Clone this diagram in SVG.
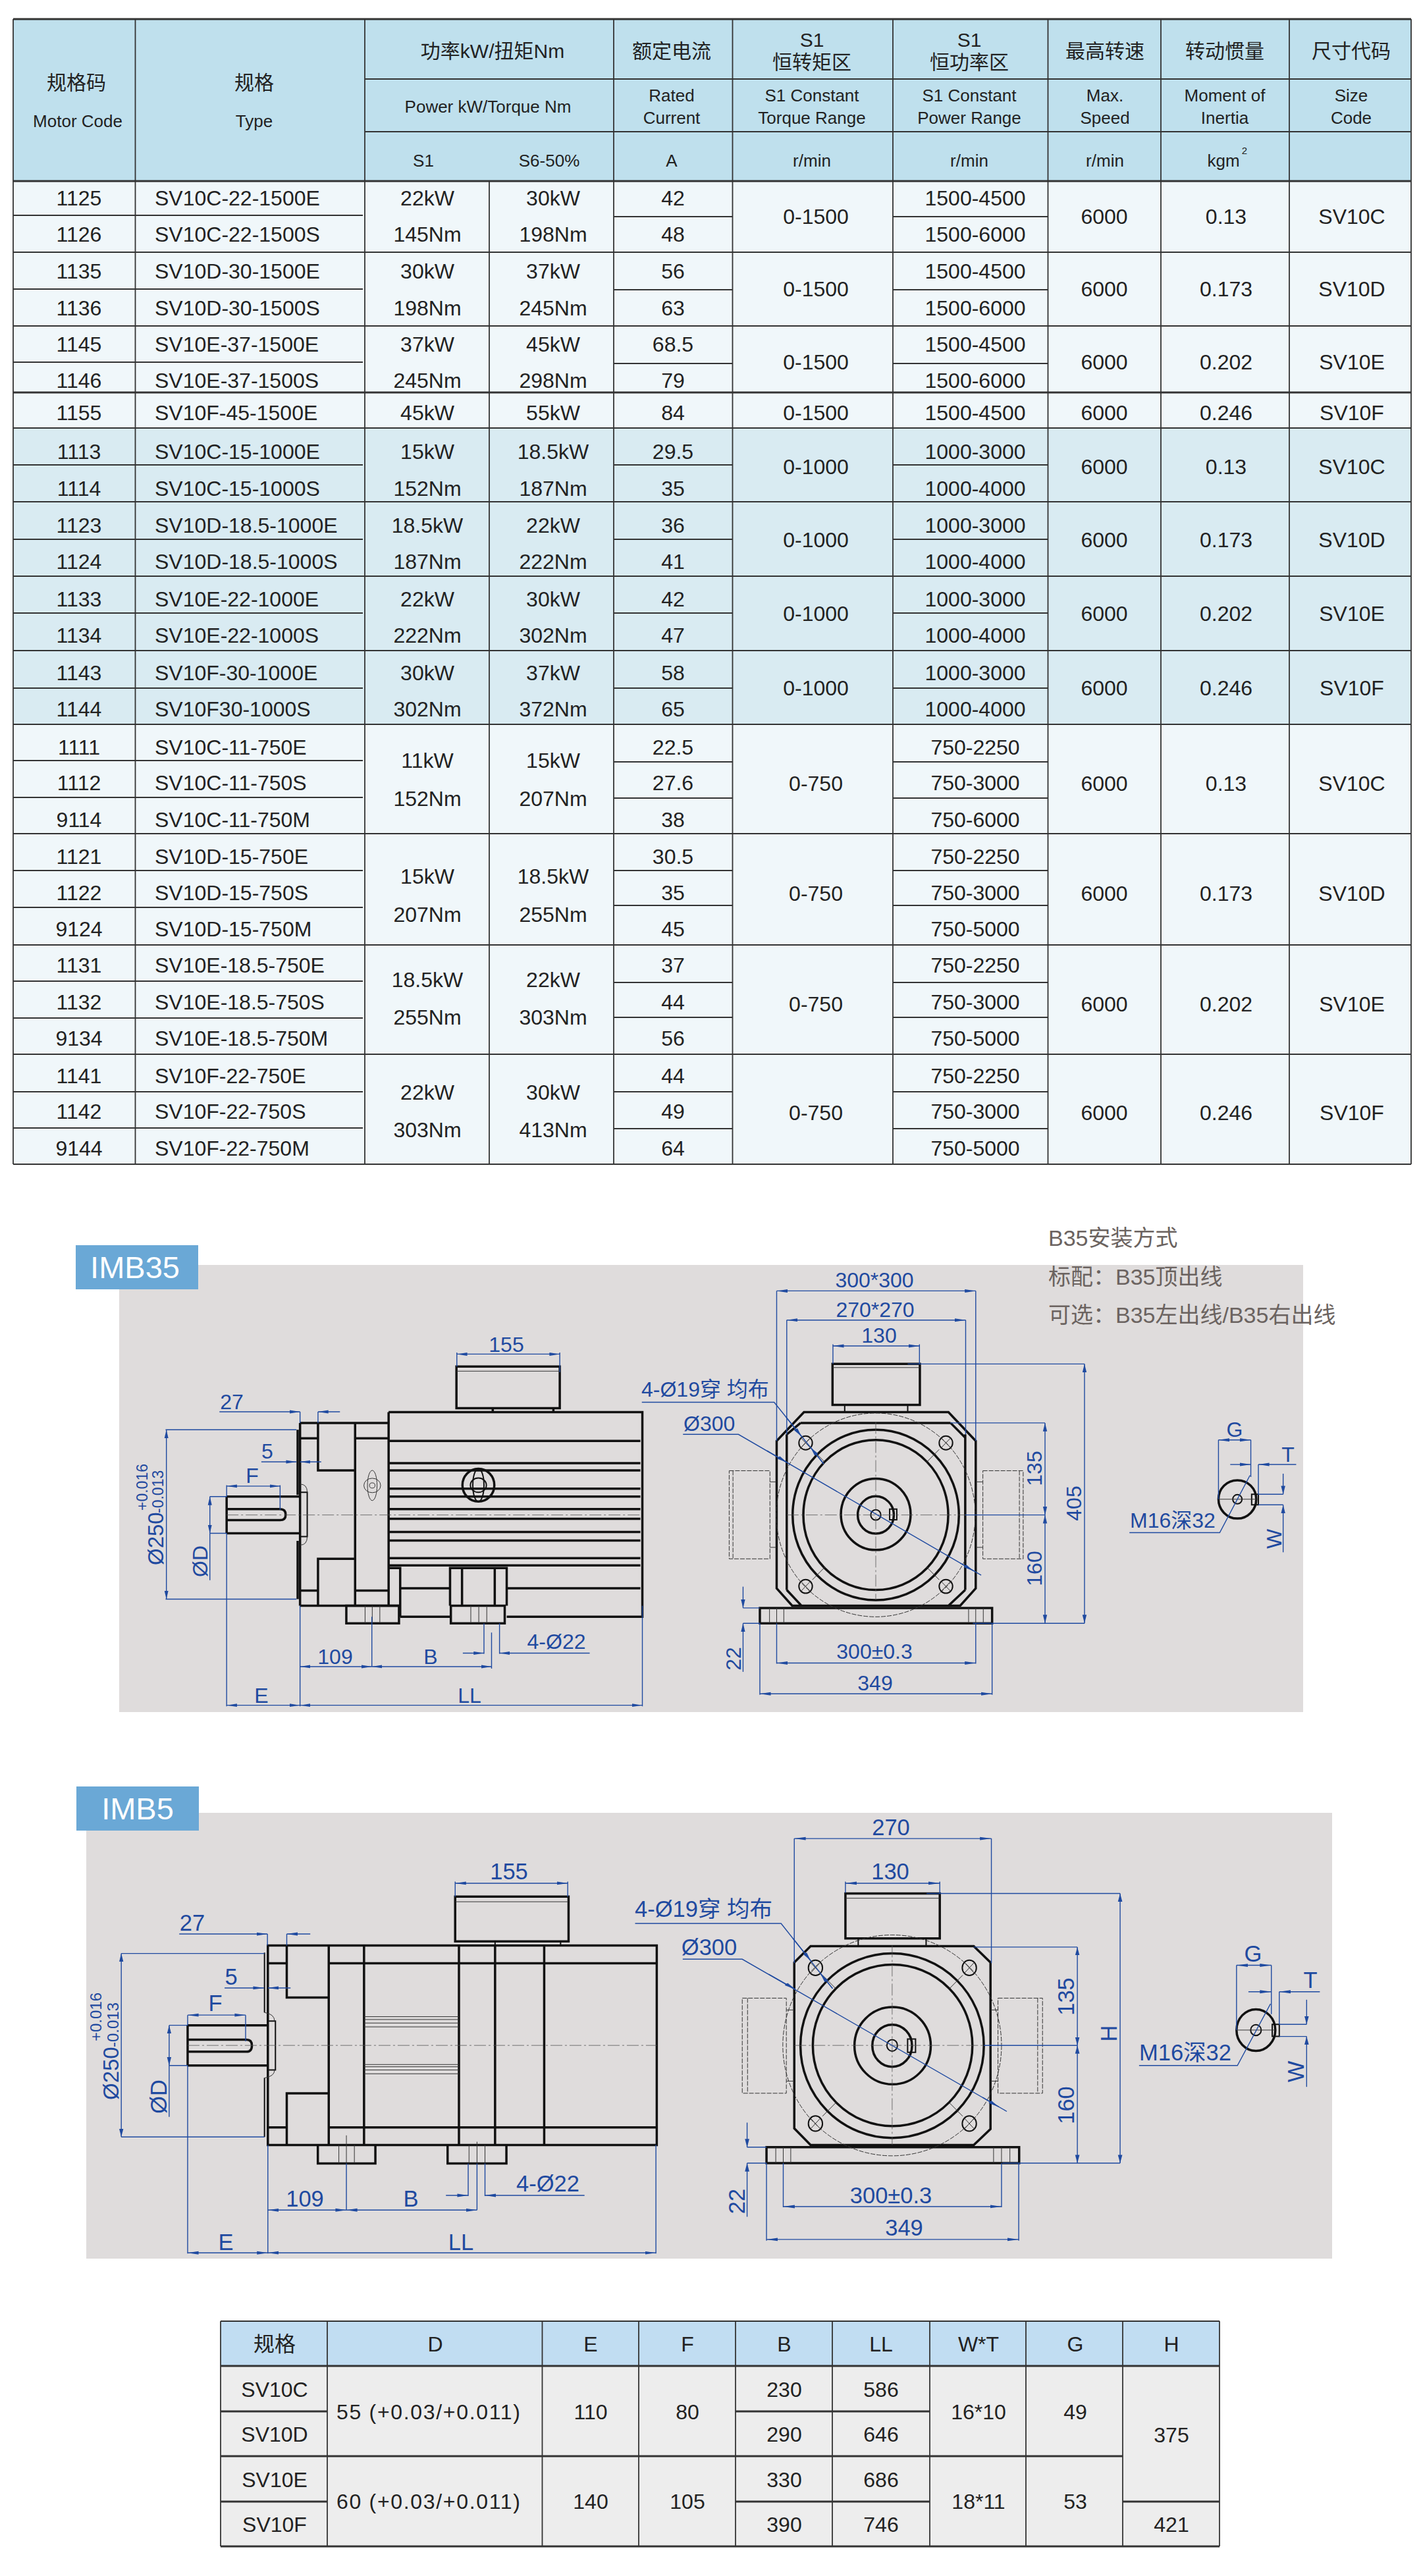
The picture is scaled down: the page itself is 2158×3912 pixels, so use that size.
<svg xmlns="http://www.w3.org/2000/svg" width="2158" height="3912" viewBox="0 0 2158 3912">
<style>
text{font-family:"Liberation Sans","Noto Sans CJK SC",sans-serif;fill:#222;font-size:32px;text-anchor:middle}
.l{text-anchor:start}
.h{font-size:26px}
.c{font-size:30px}
.t2{font-size:32px}
.b{fill:#1f4aa0;font-size:32px}
.s{font-size:23px}
#imb5 .b{font-size:34.500px}
#imb5 .s{font-size:24px}
.n{fill:#6b6360;font-size:34px;text-anchor:start}
.w{fill:#fff;font-size:47px}
.ln{stroke:#333;stroke-width:1.8;fill:none}
.ln2{stroke:#333;stroke-width:3;fill:none}
.k,.m,.f,.ds,.d,.dd,.de,.cl{vector-effect:non-scaling-stroke;fill:none}
.k{stroke:#111;stroke-width:3.5}
.m{stroke:#111;stroke-width:2}
.f{stroke:#333;stroke-width:1}
.ds{stroke:#333;stroke-width:1;stroke-dasharray:7 2}
.cl{stroke:#555;stroke-width:.8;stroke-dasharray:18 4 3 4}
.d,.dd,.de{stroke:#1f4aa0;stroke-width:1.4}
.dd{marker-start:url(#a);marker-end:url(#a)}
.de{marker-end:url(#a)}
</style>
<defs>
<marker id="a" markerUnits="userSpaceOnUse" markerWidth="28" markerHeight="14" refX="26" refY="7" orient="auto-start-reverse"><path d="M0 2L26 7L0 12z" fill="#1f4aa0"/></marker>
</defs>
<rect width="2158" height="3912" fill="#fff"/>

<g id="spec-table">
<rect x="20" y="29" width="2123" height="246" fill="#bfe0ed"/>
<rect x="20" y="275" width="2123" height="375" fill="#f0f7fa"/>
<rect x="20" y="650" width="2123" height="450" fill="#d9ebf2"/>
<rect x="20" y="1100" width="2123" height="668" fill="#f0f7fa"/>
<path class="ln2" d="M20 29H2143M20 275H2143M20 596H2143"/>
<path class="ln" d="M20 383H2143M20 495H2143M20 650H2143M20 762H2143M20 875H2143M20 988H2143M20 1100H2143M20 1266H2143M20 1435H2143M20 1601H2143M20 1768H2143"/>
<path class="ln" d="M554 120H2143M554 200H2143"/>
<path class="ln" d="M20 327H551M20 439H551M20 550H551M20 706H551M20 819H551M20 931H551M20 1045H551M20 1155H551M20 1211H551M20 1322H551M20 1378H551M20 1490H551M20 1546H551M20 1658H551M20 1713H551"/>
<path class="ln" d="M932 329H1112M932 440H1112M932 552H1112M932 706H1112M932 819H1112M932 931H1112M932 1045H1112M932 1157H1112M932 1212H1112M932 1322H1112M932 1375H1112M932 1492H1112M932 1545H1112M932 1658H1112M932 1714H1112"/>
<path class="ln" d="M1356 329H1591M1356 440H1591M1356 552H1591M1356 706H1591M1356 819H1591M1356 931H1591M1356 1045H1591M1356 1157H1591M1356 1212H1591M1356 1322H1591M1356 1375H1591M1356 1492H1591M1356 1545H1591M1356 1658H1591M1356 1714H1591"/>
<path class="ln" d="M20 29V1768M205.500 29V1768M554 29V1768M743 275V1768M932 29V1768M1112.500 29V1768M1356 29V1768M1591.500 29V1768M1763 29V1768M1958 29V1768M2143 29V1768"/>

<text x="116" y="136" class="c">规格码</text><text x="118" y="193" class="h">Motor  Code</text>
<text x="386" y="136" class="c">规格</text><text x="386" y="193" class="h">Type</text>
<text x="748" y="88" class="c">功率kW/扭矩Nm</text><text x="741" y="171" class="h">Power kW/Torque Nm</text>
<text x="643" y="253" class="h">S1</text><text x="834" y="253" class="h">S6-50%</text>
<text x="1020" y="88" class="c">额定电流</text><text x="1020" y="154" class="h">Rated</text><text x="1020" y="188" class="h">Current</text><text x="1020" y="253" class="h">A</text>
<text x="1233" y="71" class="c">S1</text><text x="1233" y="105" class="c">恒转矩区</text><text x="1233" y="154" class="h">S1 Constant</text><text x="1233" y="188" class="h">Torque Range</text><text x="1233" y="253" class="h">r/min</text>
<text x="1472" y="71" class="c">S1</text><text x="1472" y="105" class="c">恒功率区</text><text x="1472" y="154" class="h">S1 Constant</text><text x="1472" y="188" class="h">Power Range</text><text x="1472" y="253" class="h">r/min</text>
<text x="1678" y="88" class="c">最高转速</text><text x="1678" y="154" class="h">Max.</text><text x="1678" y="188" class="h">Speed</text><text x="1678" y="253" class="h">r/min</text>
<text x="1860" y="88" class="c">转动惯量</text><text x="1860" y="154" class="h">Moment of</text><text x="1860" y="188" class="h">Inertia</text><text x="1858" y="253" class="h">kgm</text><text x="1890" y="234" style="font-size:15px">2</text>
<text x="2052" y="88" class="c">尺寸代码</text><text x="2052" y="154" class="h">Size</text><text x="2052" y="188" class="h">Code</text>

<g id="col-code">
<text x="120" y="312">1125</text><text x="120" y="367">1126</text><text x="120" y="423">1135</text><text x="120" y="479">1136</text><text x="120" y="534">1145</text><text x="120" y="589">1146</text><text x="120" y="638">1155</text>
<text x="120" y="697">1113</text><text x="120" y="753">1114</text><text x="120" y="809">1123</text><text x="120" y="864">1124</text><text x="120" y="921">1133</text><text x="120" y="976">1134</text><text x="120" y="1033">1143</text><text x="120" y="1088">1144</text>
<text x="120" y="1146">1111</text><text x="120" y="1200">1112</text><text x="120" y="1256">9114</text><text x="120" y="1312">1121</text><text x="120" y="1367">1122</text><text x="120" y="1422">9124</text><text x="120" y="1477">1131</text><text x="120" y="1533">1132</text><text x="120" y="1588">9134</text><text x="120" y="1645">1141</text><text x="120" y="1699">1142</text><text x="120" y="1755">9144</text>
</g>
<g id="col-type">
<text x="235" y="312" class="l">SV10C-22-1500E</text><text x="235" y="367" class="l">SV10C-22-1500S</text><text x="235" y="423" class="l">SV10D-30-1500E</text><text x="235" y="479" class="l">SV10D-30-1500S</text><text x="235" y="534" class="l">SV10E-37-1500E</text><text x="235" y="589" class="l">SV10E-37-1500S</text><text x="235" y="638" class="l">SV10F-45-1500E</text>
<text x="235" y="697" class="l">SV10C-15-1000E</text><text x="235" y="753" class="l">SV10C-15-1000S</text><text x="235" y="809" class="l">SV10D-18.5-1000E</text><text x="235" y="864" class="l">SV10D-18.5-1000S</text><text x="235" y="921" class="l">SV10E-22-1000E</text><text x="235" y="976" class="l">SV10E-22-1000S</text><text x="235" y="1033" class="l">SV10F-30-1000E</text><text x="235" y="1088" class="l">SV10F30-1000S</text>
<text x="235" y="1146" class="l">SV10C-11-750E</text><text x="235" y="1200" class="l">SV10C-11-750S</text><text x="235" y="1256" class="l">SV10C-11-750M</text><text x="235" y="1312" class="l">SV10D-15-750E</text><text x="235" y="1367" class="l">SV10D-15-750S</text><text x="235" y="1422" class="l">SV10D-15-750M</text><text x="235" y="1477" class="l">SV10E-18.5-750E</text><text x="235" y="1533" class="l">SV10E-18.5-750S</text><text x="235" y="1588" class="l">SV10E-18.5-750M</text><text x="235" y="1645" class="l">SV10F-22-750E</text><text x="235" y="1699" class="l">SV10F-22-750S</text><text x="235" y="1755" class="l">SV10F-22-750M</text>
</g>
<g id="col-s1">
<text x="649" y="312">22kW</text><text x="649" y="367">145Nm</text><text x="649" y="423">30kW</text><text x="649" y="479">198Nm</text><text x="649" y="534">37kW</text><text x="649" y="589">245Nm</text><text x="649" y="638">45kW</text>
<text x="649" y="697">15kW</text><text x="649" y="753">152Nm</text><text x="649" y="809">18.5kW</text><text x="649" y="864">187Nm</text><text x="649" y="921">22kW</text><text x="649" y="976">222Nm</text><text x="649" y="1033">30kW</text><text x="649" y="1088">302Nm</text>
<text x="649" y="1166">11kW</text><text x="649" y="1224">152Nm</text><text x="649" y="1342">15kW</text><text x="649" y="1400">207Nm</text><text x="649" y="1499">18.5kW</text><text x="649" y="1556">255Nm</text><text x="649" y="1670">22kW</text><text x="649" y="1727">303Nm</text>
</g>
<g id="col-s6">
<text x="840" y="312">30kW</text><text x="840" y="367">198Nm</text><text x="840" y="423">37kW</text><text x="840" y="479">245Nm</text><text x="840" y="534">45kW</text><text x="840" y="589">298Nm</text><text x="840" y="638">55kW</text>
<text x="840" y="697">18.5kW</text><text x="840" y="753">187Nm</text><text x="840" y="809">22kW</text><text x="840" y="864">222Nm</text><text x="840" y="921">30kW</text><text x="840" y="976">302Nm</text><text x="840" y="1033">37kW</text><text x="840" y="1088">372Nm</text>
<text x="840" y="1166">15kW</text><text x="840" y="1224">207Nm</text><text x="840" y="1342">18.5kW</text><text x="840" y="1400">255Nm</text><text x="840" y="1499">22kW</text><text x="840" y="1556">303Nm</text><text x="840" y="1670">30kW</text><text x="840" y="1727">413Nm</text>
</g>
<g id="col-current">
<text x="1022" y="312">42</text><text x="1022" y="367">48</text><text x="1022" y="423">56</text><text x="1022" y="479">63</text><text x="1022" y="534">68.5</text><text x="1022" y="589">79</text><text x="1022" y="638">84</text>
<text x="1022" y="697">29.5</text><text x="1022" y="753">35</text><text x="1022" y="809">36</text><text x="1022" y="864">41</text><text x="1022" y="921">42</text><text x="1022" y="976">47</text><text x="1022" y="1033">58</text><text x="1022" y="1088">65</text>
<text x="1022" y="1146">22.5</text><text x="1022" y="1200">27.6</text><text x="1022" y="1256">38</text><text x="1022" y="1312">30.5</text><text x="1022" y="1367">35</text><text x="1022" y="1422">45</text><text x="1022" y="1477">37</text><text x="1022" y="1533">44</text><text x="1022" y="1588">56</text><text x="1022" y="1645">44</text><text x="1022" y="1699">49</text><text x="1022" y="1755">64</text>
</g>
<g id="col-torque">
<text x="1239" y="340">0-1500</text><text x="1239" y="450">0-1500</text><text x="1239" y="561">0-1500</text><text x="1239" y="638">0-1500</text>
<text x="1239" y="720">0-1000</text><text x="1239" y="831">0-1000</text><text x="1239" y="943">0-1000</text><text x="1239" y="1056">0-1000</text>
<text x="1239" y="1201">0-750</text><text x="1239" y="1368">0-750</text><text x="1239" y="1536">0-750</text><text x="1239" y="1701">0-750</text>
</g>
<g id="col-power">
<text x="1481" y="312">1500-4500</text><text x="1481" y="367">1500-6000</text><text x="1481" y="423">1500-4500</text><text x="1481" y="479">1500-6000</text><text x="1481" y="534">1500-4500</text><text x="1481" y="589">1500-6000</text><text x="1481" y="638">1500-4500</text>
<text x="1481" y="697">1000-3000</text><text x="1481" y="753">1000-4000</text><text x="1481" y="809">1000-3000</text><text x="1481" y="864">1000-4000</text><text x="1481" y="921">1000-3000</text><text x="1481" y="976">1000-4000</text><text x="1481" y="1033">1000-3000</text><text x="1481" y="1088">1000-4000</text>
<text x="1481" y="1146">750-2250</text><text x="1481" y="1200">750-3000</text><text x="1481" y="1256">750-6000</text><text x="1481" y="1312">750-2250</text><text x="1481" y="1367">750-3000</text><text x="1481" y="1422">750-5000</text><text x="1481" y="1477">750-2250</text><text x="1481" y="1533">750-3000</text><text x="1481" y="1588">750-5000</text><text x="1481" y="1645">750-2250</text><text x="1481" y="1699">750-3000</text><text x="1481" y="1755">750-5000</text>
</g>
<g id="col-speed">
<text x="1677" y="340">6000</text><text x="1677" y="450">6000</text><text x="1677" y="561">6000</text><text x="1677" y="638">6000</text><text x="1677" y="720">6000</text><text x="1677" y="831">6000</text><text x="1677" y="943">6000</text><text x="1677" y="1056">6000</text><text x="1677" y="1201">6000</text><text x="1677" y="1368">6000</text><text x="1677" y="1536">6000</text><text x="1677" y="1701">6000</text>
</g>
<g id="col-inertia">
<text x="1862" y="340">0.13</text><text x="1862" y="450">0.173</text><text x="1862" y="561">0.202</text><text x="1862" y="638">0.246</text><text x="1862" y="720">0.13</text><text x="1862" y="831">0.173</text><text x="1862" y="943">0.202</text><text x="1862" y="1056">0.246</text><text x="1862" y="1201">0.13</text><text x="1862" y="1368">0.173</text><text x="1862" y="1536">0.202</text><text x="1862" y="1701">0.246</text>
</g>
<g id="col-size">
<text x="2053" y="340">SV10C</text><text x="2053" y="450">SV10D</text><text x="2053" y="561">SV10E</text><text x="2053" y="638">SV10F</text><text x="2053" y="720">SV10C</text><text x="2053" y="831">SV10D</text><text x="2053" y="943">SV10E</text><text x="2053" y="1056">SV10F</text><text x="2053" y="1201">SV10C</text><text x="2053" y="1368">SV10D</text><text x="2053" y="1536">SV10E</text><text x="2053" y="1701">SV10F</text>
</g>
</g>

<g id="imb35">
<rect x="181" y="1921" width="1798" height="679" fill="#dfdcdc"/>
<rect x="115" y="1891" width="186" height="67" fill="#6aa8d6"/>
<text x="205" y="1941" class="w">IMB35</text>
<text x="1592" y="1892" class="n">B35安装方式</text>
<text x="1592" y="1951" class="n">标配：B35顶出线</text>
<text x="1592" y="2009" class="n">可选：B35左出线/B35右出线</text>

<g id="imb35-side" transform="translate(100 1850) scale(.6059 .4974)">
<path class="k" d="M809 592H1445V1217H1105M838 1217H965M809 592V1183M587 625H809M587 1183H835M587 625V1183M632 625V770H725M725 625V1183M632 1183V1040H725M587 672H632M587 1137H632M725 672H809M725 1137H809"/>
<path class="k" d="M809 680H1440M809 748H1440M809 770H1440M809 826H1440M809 850H1440M809 888H1440M809 918H1440M809 958H1440M809 984H1440M809 1038H1440M809 1060H1440M838 1130H963M1105 1130H1440"/>
<path class="k" d="M581 646V845M581 985V1163M403 850H587M403 962H587M403 850V962M403 888H537Q551 888 551 905Q551 922 537 922H403"/>
<path class="m" d="M587 837H605V972H587"/>
<path class="f" d="M587 812Q605 812 605 837M587 998Q605 998 605 972"/>
<path class="k" d="M979 453H1238V580H979ZM1070 580V592M1222 580V592M703 1183H835V1237H703ZM965 1183H1100V1237H965ZM963 1183V1068H1105V1183M993 1068V1183M1075 1068V1183M809 1068H838V1217"/>
<path class="f" d="M979 467H1238M750 1183V1237M768 1183V1237M787 1183V1237M1015 1183V1237M1035 1183V1237M1055 1183V1237"/>
<path class="cl" d="M403 906H1440"/>
<ellipse class="f" cx="768" cy="816" rx="12" ry="46"/><ellipse class="f" cx="768" cy="816" rx="21" ry="22"/><ellipse class="f" cx="768" cy="816" rx="7" ry="8"/>
<ellipse class="k" cx="1034" cy="815" rx="40" ry="50"/><ellipse class="m" cx="1034" cy="815" rx="20" ry="22"/><ellipse class="m" cx="1034" cy="815" rx="14" ry="50"/>
<g id="imb35-side-dims">
<path class="d" d="M980 410V453M1238 410V470M587 591V625M632 591V625M403 815V850M537 815V890M361 850H403M361 962H403M250 646H578M250 1163H578M767 1217V1369M587 1183V1490M1067 1265V1375M1048 1237V1330M1087 1237V1330M403 962V1490M1445 1183V1490"/>
<line class="dd" x1="980" y1="415" x2="1238" y2="415"/>
<line class="de" x1="385" y1="591" x2="587" y2="591"/><line class="de" x1="687" y1="591" x2="632" y2="591"/>
<line class="de" x1="490" y1="744" x2="578" y2="744"/><line class="de" x1="640" y1="744" x2="587" y2="744"/>
<line class="dd" x1="403" y1="818" x2="537" y2="818"/>
<line class="dd" x1="361" y1="850" x2="361" y2="962"/><line class="d" x1="361" y1="962" x2="361" y2="1105"/>
<line class="dd" x1="252" y1="646" x2="252" y2="1163"/>
<line class="dd" x1="587" y1="1369" x2="767" y2="1369"/><line class="dd" x1="767" y1="1369" x2="1067" y2="1369"/>
<line class="de" x1="995" y1="1328" x2="1048" y2="1328"/><line class="de" x1="1313" y1="1328" x2="1087" y2="1328"/>
<line class="dd" x1="403" y1="1487" x2="587" y2="1487"/><line class="dd" x1="587" y1="1487" x2="1445" y2="1487"/>
</g>
</g>
<text x="769" y="2053" class="b">155</text><text x="352" y="2140" class="b">27</text><text x="406" y="2215" class="b">5</text><text x="383" y="2252" class="b">F</text>
<text transform="rotate(-90 315 2371)" x="315" y="2371" class="b">ØD</text>
<text transform="rotate(-90 248 2377)" x="248" y="2377" class="b l" style="font-size:33px">Ø250</text>
<text transform="rotate(-90 248 2298)" x="248" y="2298" class="b l s">-0.013</text>
<text transform="rotate(-90 224 2294)" x="224" y="2294" class="b l s">+0.016</text>
<text x="509" y="2527" class="b">109</text><text x="654" y="2527" class="b">B</text><text x="845" y="2504" class="b">4-Ø22</text><text x="397" y="2586" class="b">E</text><text x="713" y="2586" class="b">LL</text>

<g id="imb35-front" transform="translate(1050 1850) scale(.6378 .4974)">
<path class="k" d="M268 592H612L677 680V1130L640 1183H240L203 1130V680ZM227 660V1135M652 660V1135M260 625H617M227 660L260 625M617 625L652 670M227 1135L262 1183M652 1135L612 1183"/>
<rect class="k" x="163" y="1190" width="553" height="47"/>
<path class="f" d="M186 1190V1237M203 1190V1237M220 1190V1237M660 1190V1237M677 1190V1237M695 1190V1237"/>
<rect class="k" x="336" y="445" width="208" height="125"/>
<path class="f" d="M336 456H544"/><path class="m" d="M365 570V592M515 570V592"/>
<ellipse class="k" cx="439" cy="906" rx="198" ry="260"/><ellipse class="k" cx="439" cy="906" rx="172.500" ry="229"/><ellipse class="k" cx="439" cy="904" rx="83" ry="109"/><ellipse class="k" cx="439" cy="906" rx="43" ry="57"/><ellipse class="m" cx="439" cy="906" rx="12" ry="16"/>
<rect class="m" x="472" y="888" width="17" height="33"/>
<ellipse class="ds" cx="439" cy="906" rx="237" ry="311"/>
<ellipse class="m" cx="272" cy="686" rx="16" ry="21"/><ellipse class="m" cx="606" cy="686" rx="16" ry="21"/><ellipse class="m" cx="272" cy="1124" rx="16" ry="21"/><ellipse class="m" cx="606" cy="1124" rx="16" ry="21"/>
<path class="f" d="M260 670L284 702M284 670L260 702M594 670L618 702M618 670L594 702M260 1108L284 1140M284 1108L260 1140M594 1108L618 1140M618 1108L594 1140M590 706L560 745M288 706L318 745M590 1104L560 1065M288 1104L318 1065"/>
<path class="ds" d="M90 771H187V1040H90ZM99 771V1040M694 771H790V1040H694ZM781 771V1040"/>
<path class="f" d="M187 805H203M187 1005H203M677 805H694M677 1005H694"/>
<path class="cl" d="M227 906H652M439 622V1165"/>
<g id="imb35-front-dims">
<path class="d" d="M203 222V680M677 222V680M227 311V660M653 311V660M337 385V445M543 385V445M515 445H936M670 1237H936M617 625H842M652 906H842M123 1190H163M123 1237H163M203 1237V1360M677 1237V1360M163 1237V1455M716 1237V1455"/>
<line class="dd" x1="203" y1="222" x2="677" y2="222"/><line class="dd" x1="227" y1="311" x2="653" y2="311"/><line class="dd" x1="337" y1="390" x2="543" y2="390"/>
<line class="dd" x1="936" y1="445" x2="936" y2="1237"/><line class="dd" x1="842" y1="625" x2="842" y2="906"/><line class="dd" x1="842" y1="906" x2="842" y2="1237"/>
<line class="de" x1="123" y1="1125" x2="123" y2="1190"/><line class="de" x1="123" y1="1385" x2="123" y2="1237"/>
<line class="dd" x1="203" y1="1358" x2="677" y2="1358"/><line class="dd" x1="163" y1="1452" x2="716" y2="1452"/>
<path class="d" d="M-118 562H197L315 750M-20 660H112L690 1090"/>
<line class="de" x1="225" y1="607" x2="262" y2="666"/><line class="de" x1="315" y1="750" x2="284" y2="700"/>
<line class="de" x1="180" y1="710" x2="228" y2="746"/><line class="de" x1="640" y1="1053" x2="672" y2="1077"/>
<path class="k" d="M1300 800C1275 800 1255 825 1255 858C1255 890 1275 917 1300 917C1325 917 1345 890 1345 858C1345 825 1325 800 1300 800Z"/>
<ellipse class="m" cx="1300" cy="858" rx="11" ry="14"/><rect class="m" x="1334" y="843" width="16" height="32"/>
<path class="f" d="M1255 858H1345"/>
<path class="d" d="M1255 677V858M1332 677V790M1350 752V845M1350 843H1409M1350 875H1409M1043 960H1258L1330 785"/>
<line class="dd" x1="1255" y1="677" x2="1332" y2="677"/>
<line class="de" x1="1283" y1="752" x2="1332" y2="752"/><line class="de" x1="1440" y1="752" x2="1350" y2="752"/>
<line class="de" x1="1409" y1="780" x2="1409" y2="843"/><line class="de" x1="1409" y1="1020" x2="1409" y2="875"/>
</g>
</g>
<text x="974" y="2121" class="b l">4-Ø19穿 均布</text><text x="1038" y="2173" class="b l">Ø300</text>
<text x="1328" y="1955" class="b">300*300</text><text x="1329" y="2000" class="b">270*270</text><text x="1335" y="2039" class="b">130</text>
<text transform="rotate(-90 1642 2283)" x="1642" y="2283" class="b">405</text><text transform="rotate(-90 1582 2230)" x="1582" y="2230" class="b">135</text><text transform="rotate(-90 1582 2382)" x="1582" y="2382" class="b">160</text><text transform="rotate(-90 1125 2519)" x="1125" y="2519" class="b">22</text>
<text x="1328" y="2519" class="b">300±0.3</text><text x="1329" y="2567" class="b">349</text>
<text x="1875" y="2182" class="b">G</text><text x="1956" y="2220" class="b">T</text><text transform="rotate(-90 1946 2337)" x="1946" y="2337" class="b">W</text><text x="1781" y="2320" class="b">M16深32</text>
</g>

<g id="imb5">
<rect x="131" y="2753" width="1892" height="677" fill="#dfdcdc"/>
<rect x="116" y="2713" width="186" height="67" fill="#6aa8d6"/>
<text x="209" y="2763" class="w">IMB5</text>
<g id="imb5-side" transform="translate(100 2700) scale(.6378 .4847)">
<rect class="k" x="481" y="525" width="926" height="625"/>
<path class="k" d="M481 581H526M626 581H1407M481 1095H526M626 1095H1407M526 525V688H626M626 525V1150M526 1150V988H626M710 525V1150M936 525V1150M1022 525V1150M1139 525V1150"/>
<path class="f" d="M710 748H936M710 757H936M710 768H936M710 780H936M710 898H936M710 905H936M710 915H936M710 927H936"/>
<path class="m" d="M473 547V735M473 940V1125M481 762H499V915H481"/>
<path class="f" d="M473 735Q497 740 497 762M473 940Q497 935 497 915"/>
<path class="k" d="M290 775H481M290 901H481M290 775V901M290 820H430Q443 820 443 838Q443 858 430 858H290"/>
<rect class="k" x="927" y="372" width="270" height="140"/>
<path class="f" d="M927 388H1197"/>
<path class="m" d="M1022 512V525M1178 512V525"/>
<path class="k" d="M600 1150V1208H737V1150M909 1150V1208H1049V1150"/>
<path class="f" d="M650 1150V1208M668 1120V1208M687 1150V1208M960 1150V1208M979 1140V1208M998 1150V1208"/>
<path class="cl" d="M290 838H1407"/>
<g id="imb5-side-dims">
<path class="d" d="M927 325V372M1195 325V372M480 489V525M526 489V525M290 743V775M428 743V825M246 775H290M246 901H290M132 550H473M132 1125H473M668 1208V1354M979 1208V1354M958 1208V1310M998 1208V1310M290 901V1490M481 1150V1490M1405 1150V1490"/>
<line class="dd" x1="927" y1="330" x2="1195" y2="330"/>
<line class="de" x1="270" y1="489" x2="480" y2="489"/><line class="de" x1="582" y1="489" x2="526" y2="489"/>
<line class="de" x1="378" y1="658" x2="472" y2="658"/><line class="de" x1="535" y1="658" x2="481" y2="658"/>
<line class="dd" x1="290" y1="743" x2="428" y2="743"/>
<line class="dd" x1="246" y1="775" x2="246" y2="901"/><line class="d" x1="246" y1="901" x2="246" y2="1062"/>
<line class="dd" x1="132" y1="550" x2="132" y2="1125"/>
<line class="dd" x1="481" y1="1354" x2="668" y2="1354"/><line class="dd" x1="668" y1="1354" x2="979" y2="1354"/>
<line class="de" x1="905" y1="1308" x2="958" y2="1308"/><line class="de" x1="1235" y1="1308" x2="998" y2="1308"/>
<line class="dd" x1="290" y1="1488" x2="481" y2="1488"/><line class="dd" x1="481" y1="1488" x2="1405" y2="1488"/>
</g>
</g>
<text x="773" y="2854" class="b">155</text><text x="292" y="2932" class="b">27</text><text x="351" y="3014" class="b">5</text><text x="327" y="3054" class="b">F</text>
<text transform="rotate(-90 253 3184)" x="253" y="3184" class="b">ØD</text>
<text transform="rotate(-90 180 3189)" x="180" y="3189" class="b l" style="font-size:33px">Ø250</text>
<text transform="rotate(-90 180 3109)" x="180" y="3109" class="b l s">-0.013</text>
<text transform="rotate(-90 154 3100)" x="154" y="3100" class="b l s">+0.016</text>
<text x="463" y="3351" class="b">109</text><text x="624" y="3351" class="b">B</text><text x="832" y="3328" class="b">4-Ø22</text><text x="343" y="3417" class="b">E</text><text x="700" y="3417" class="b">LL</text>

<g id="imb5-front" transform="translate(1000 2700) scale(.6696 .4847)">
<path class="k" d="M345 527H715L753 578V1100L715 1150H345L308 1098V578Z"/>
<rect class="k" x="245" y="1157" width="573" height="50"/>
<path class="m" d="M345 1150L360 1157M697 1150L712 1157"/>
<path class="f" d="M266 1157V1207M283 1157V1207M300 1157V1207M760 1157V1207M778 1157V1207M797 1157V1207"/>
<rect class="k" x="424" y="362" width="214" height="141"/>
<path class="f" d="M424 377H638"/><path class="m" d="M453 503V527M607 503V527"/>
<ellipse class="k" cx="530" cy="839" rx="208" ry="289"/><ellipse class="k" cx="531" cy="838" rx="181" ry="253"/><ellipse class="k" cx="531" cy="839" rx="86.500" ry="121"/><ellipse class="k" cx="530" cy="839" rx="45" ry="66"/><ellipse class="m" cx="530" cy="838" rx="12" ry="18"/>
<rect class="m" x="565" y="818" width="18" height="42"/>
<ellipse class="ds" cx="530" cy="838" rx="248" ry="346"/>
<ellipse class="m" cx="356" cy="595" rx="16" ry="24"/><ellipse class="m" cx="705" cy="595" rx="16" ry="24"/><ellipse class="m" cx="356" cy="1083" rx="16" ry="24"/><ellipse class="m" cx="705" cy="1083" rx="16" ry="24"/>
<path class="f" d="M344 577L368 613M368 577L344 613M693 577L717 613M717 577L693 613M344 1065L368 1101M368 1065L344 1101M693 1065L717 1101M717 1065L693 1101M690 618L660 660M372 618L402 660M690 1060L660 1018M372 1060L402 1018"/>
<path class="ds" d="M190 690H290V988H190ZM202 690V988M770 690H871V988H770ZM860 690V988"/>
<path class="f" d="M290 727H308M290 950H308M753 727H770M753 950H770"/>
<path class="cl" d="M308 838H738M530 525V1150"/>
<g id="imb5-front-dims">
<path class="d" d="M308 190V580M755 190V580M424 325V360M638 325V360M608 362H1047M780 1207H1047M715 530H950M738 838H950M201 1157H245M201 1207H245M283 1207V1345M778 1207V1345M245 1207V1450M817 1207V1450"/>
<line class="dd" x1="308" y1="190" x2="755" y2="190"/><line class="dd" x1="424" y1="330" x2="638" y2="330"/>
<line class="dd" x1="1047" y1="362" x2="1047" y2="1207"/><line class="dd" x1="950" y1="530" x2="950" y2="838"/><line class="dd" x1="950" y1="838" x2="950" y2="1207"/>
<line class="de" x1="201" y1="1080" x2="201" y2="1157"/><line class="de" x1="201" y1="1375" x2="201" y2="1207"/>
<line class="dd" x1="283" y1="1343" x2="778" y2="1343"/><line class="dd" x1="245" y1="1446" x2="817" y2="1446"/>
<path class="d" d="M-53 456H278L395 660M55 568H190L790 1045"/>
<line class="de" x1="305" y1="503" x2="345" y2="572"/><line class="de" x1="395" y1="660" x2="368" y2="615"/>
<line class="de" x1="250" y1="615" x2="310" y2="662"/><line class="de" x1="735" y1="1001" x2="772" y2="1031"/>
<ellipse class="k" cx="1355" cy="790" rx="44" ry="65"/><ellipse class="m" cx="1355" cy="790" rx="12" ry="17"/><rect class="m" x="1392" y="772" width="16" height="38"/>
<path class="f" d="M1311 790H1399"/>
<path class="d" d="M1311 587V790M1390 587V740M1408 670V772M1408 772H1470M1408 810H1470M1090 901H1313L1388 708"/>
<line class="dd" x1="1311" y1="587" x2="1390" y2="587"/>
<line class="de" x1="1338" y1="670" x2="1390" y2="670"/><line class="de" x1="1500" y1="670" x2="1408" y2="670"/>
<line class="de" x1="1470" y1="695" x2="1470" y2="772"/><line class="de" x1="1470" y1="968" x2="1470" y2="810"/>
</g>
</g>
<text x="964" y="2911" class="b l">4-Ø19穿 均布</text><text x="1077" y="2969" class="b">Ø300</text>
<text x="1353" y="2787" class="b">270</text><text x="1352" y="2854" class="b">130</text>
<text transform="rotate(-90 1696 3088)" x="1696" y="3088" class="b">H</text><text transform="rotate(-90 1631 3032)" x="1631" y="3032" class="b">135</text><text transform="rotate(-90 1631 3197)" x="1631" y="3197" class="b">160</text><text transform="rotate(-90 1131 3343)" x="1131" y="3343" class="b">22</text>
<text x="1353" y="3346" class="b">300±0.3</text><text x="1373" y="3395" class="b">349</text>
<text x="1903" y="2979" class="b">G</text><text x="1990" y="3019" class="b">T</text><text transform="rotate(-90 1980 3146)" x="1980" y="3146" class="b">W</text><text x="1800" y="3129" class="b">M16深32</text>
</g>

<g id="dim-table">
<rect x="335" y="3525" width="1517" height="68" fill="#c1ddf2"/>
<rect x="335" y="3593" width="1517" height="274" fill="#ededed"/>
<path class="ln" d="M335 3525V3867M497 3525V3867M823.500 3525V3867M970 3525V3867M1117 3525V3867M1264 3525V3867M1412 3525V3867M1558 3525V3867M1705 3525V3867M1852 3525V3867M335 3525H1852"/>
<path class="ln2" d="M335 3593H1852M335 3662H497M1117 3662H1412M335 3730H1705M335 3799H497M1117 3799H1412M1705 3799H1852M335 3867H1852"/>
<text x="417" y="3571" class="t2">规格</text><text x="661" y="3571" class="t2">D</text><text x="897" y="3571" class="t2">E</text><text x="1044" y="3571" class="t2">F</text><text x="1191" y="3571" class="t2">B</text><text x="1338" y="3571" class="t2">LL</text><text x="1486" y="3571" class="t2">W*T</text><text x="1633" y="3571" class="t2">G</text><text x="1779" y="3571" class="t2">H</text>
<text x="417" y="3640" class="t2">SV10C</text><text x="417" y="3708" class="t2">SV10D</text><text x="417" y="3777" class="t2">SV10E</text><text x="417" y="3845" class="t2">SV10F</text>
<text x="511" y="3674" class="t2 l" textLength="279">55 (+0.03/+0.011)</text><text x="511" y="3810" class="t2 l" textLength="279">60 (+0.03/+0.011)</text>
<text x="897" y="3674" class="t2">110</text><text x="897" y="3810" class="t2">140</text><text x="1044" y="3674" class="t2">80</text><text x="1044" y="3810" class="t2">105</text>
<text x="1191" y="3640" class="t2">230</text><text x="1191" y="3708" class="t2">290</text><text x="1191" y="3777" class="t2">330</text><text x="1191" y="3845" class="t2">390</text>
<text x="1338" y="3640" class="t2">586</text><text x="1338" y="3708" class="t2">646</text><text x="1338" y="3777" class="t2">686</text><text x="1338" y="3845" class="t2">746</text>
<text x="1486" y="3674" class="t2">16*10</text><text x="1486" y="3810" class="t2">18*11</text><text x="1633" y="3674" class="t2">49</text><text x="1633" y="3810" class="t2">53</text>
<text x="1779" y="3709" class="t2">375</text><text x="1779" y="3845" class="t2">421</text>
</g>
</svg>
